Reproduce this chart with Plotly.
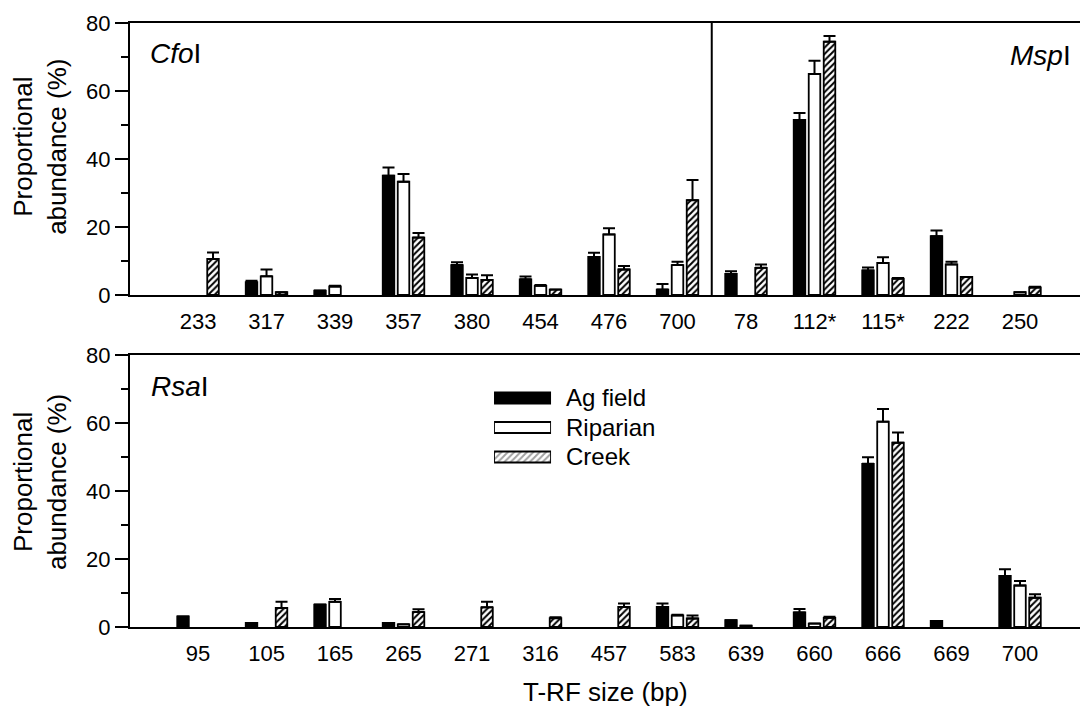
import plotly.graph_objects as go

# ---------------- data ----------------
# Top panel: CfoI fragments | MspI fragments
cfo_labels = ["233", "317", "339", "357", "380", "454", "476", "700"]
msp_labels = ["78", "112*", "115*", "222", "250"]
top_labels = cfo_labels + msp_labels

top_ag = [None, 3.8, 1.3, 35.1, 8.8, 4.6, 11.2, 1.6, 6.2, 51.5, 7.2, 17.3, None]
top_ag_err = [None, 0.4, 0.0, 2.4, 0.8, 0.8, 1.2, 1.6, 0.8, 2.0, 0.9, 1.7, None]
top_rip = [None, 5.5, 2.5, 33.3, 5.0, 2.7, 17.8, 8.8, None, 65.0, 9.4, 9.0, 0.8]
top_rip_err = [None, 2.0, 0.2, 2.3, 1.0, 0.2, 1.8, 1.0, None, 3.9, 1.7, 0.8, 0.0]
top_creek = [10.6, 0.8, None, 16.9, 4.4, 1.6, 7.5, 27.9, 8.0, 74.5, 4.8, 5.3, 2.2]
top_creek_err = [1.9, 0.0, None, 1.3, 1.4, 0.0, 1.0, 5.9, 1.0, 1.7, 0.2, 0.0, 0.2]

# Bottom panel: RsaI fragments
rsa_labels = ["95", "105", "165", "265", "271", "316", "457", "583", "639", "660", "666", "669", "700"]
rsa_ag = [3.1, 1.2, 6.6, 1.2, None, None, None, 5.9, 2.0, 4.3, 48.0, 1.8, 15.0]
rsa_ag_err = [0.0, 0.0, 0.0, 0.0, None, None, None, 1.0, 0.0, 1.0, 1.9, 0.0, 2.0]
rsa_rip = [None, None, 7.4, 0.8, None, None, None, 3.4, 0.4, 1.0, 60.4, None, 12.2]
rsa_rip_err = [None, None, 0.8, 0.0, None, None, None, 0.2, 0.0, 0.0, 3.7, None, 1.3]
rsa_creek = [None, 5.6, None, 4.4, 5.8, 2.6, 5.9, 2.5, None, 2.7, 54.2, None, 8.6]
rsa_creek_err = [None, 1.8, None, 0.8, 1.6, 0.3, 1.0, 0.9, None, 0.3, 3.0, None, 1.0]

series_names = ["Ag field", "Riparian", "Creek"]
y_ticks = [0, 20, 40, 60, 80]

# ---------------- styling ----------------
FONT = "Liberation Sans, Arial, Helvetica, sans-serif"
OUT = dict(color="black", width=1.8)
HATCH = dict(shape="/", fgcolor="black", bgcolor="white", size=4.5, solidity=0.45, fillmode="replace")
markers = {
    "Ag field": dict(color="black", line=OUT),
    "Riparian": dict(color="white", line=OUT),
    "Creek": dict(color="white", line=OUT, pattern=HATCH),
}

fig = go.Figure()

def add_panel(labels, vals_list, errs_list, xa, ya):
    xs = list(range(len(labels)))
    for name, vals, errs in zip(series_names, vals_list, errs_list):
        fig.add_trace(go.Bar(
            x=xs, y=vals, name=name, showlegend=False,
            marker=markers[name],
            error_y=dict(type="data", symmetric=False, array=errs,
                         arrayminus=[0] * len(errs), color="black",
                         thickness=2, width=6),
            xaxis=xa, yaxis=ya,
        ))

add_panel(top_labels, [top_ag, top_rip, top_creek],
          [top_ag_err, top_rip_err, top_creek_err], "x", "y")
add_panel(rsa_labels, [rsa_ag, rsa_rip, rsa_creek],
          [rsa_ag_err, rsa_rip_err, rsa_creek_err], "x2", "y2")

# legend swatches drawn as a tiny horizontal-bar subplot
leg_pos = list(range(len(series_names)))[::-1]
fig.add_trace(go.Bar(
    orientation="h", x=[1] * len(series_names), y=leg_pos, width=0.373,
    showlegend=False, hoverinfo="skip",
    marker=dict(color=["black", "white", "white"], line=OUT,
                pattern=dict(shape=["", "", "/"], fgcolor="black", size=4.5,
                             solidity=0.45, fillmode="overlay")),
    xaxis="x3", yaxis="y3",
))

XR = [-0.993, 12.876]
tickfont = dict(family=FONT, size=22, color="black")

def xaxis_cfg(labels, anchor):
    return dict(domain=[0, 1], anchor=anchor, range=XR,
                tickvals=list(range(len(labels))), ticktext=labels,
                ticks="outside", ticklen=6, tickcolor="rgba(0,0,0,0)",
                showline=True, linecolor="black", linewidth=2, mirror=True,
                showgrid=False, zeroline=False, tickfont=tickfont)

def yaxis_cfg(domain, anchor):
    return dict(domain=domain, anchor=anchor, range=[0, 80], tickvals=y_ticks,
                ticks="outside", ticklen=13, tickwidth=2, tickcolor="black",
                showline=True, linecolor="black", linewidth=2,
                minor=dict(ticks="outside", ticklen=7, tickwidth=2,
                           tickcolor="black", dtick=10, showgrid=False),
                showgrid=False, zeroline=False, tickfont=tickfont)

fig.update_layout(
    width=1080, height=707,
    margin=dict(l=130, r=0, t=23, b=80),
    paper_bgcolor="white", plot_bgcolor="rgba(0,0,0,0)",
    barmode="group", bargap=0.343, bargroupgap=0.23,
    font=dict(family=FONT, color="black"),
    xaxis=xaxis_cfg(top_labels, "y"),
    yaxis=yaxis_cfg([0.5497, 1], "x"),
    xaxis2=xaxis_cfg(rsa_labels, "y2"),
    yaxis2=yaxis_cfg([0, 0.4503], "x2"),
    xaxis3=dict(domain=[0.3832, 0.4432], anchor="y3", range=[0, 1], visible=False),
    yaxis3=dict(domain=[0.257, 0.4036], anchor="x3", range=[-0.5, 2.5], visible=False),
)

# divider between CfoI and MspI
div_x = len(cfo_labels) - 0.5
fig.add_shape(type="line", xref="x", yref="y", x0=div_x, x1=div_x, y0=0, y1=80,
              line=dict(color="black", width=2))

ann = []
ann.append(dict(text="<i>Cfo</i>I", xref="x domain", yref="y domain", x=0.019, y=0.888,
                xanchor="left", yanchor="middle", showarrow=False, font=dict(size=28)))
ann.append(dict(text="<i>Msp</i>I", xref="x domain", yref="y domain", x=0.9926, y=0.879,
                xanchor="right", yanchor="middle", showarrow=False, font=dict(size=28)))
ann.append(dict(text="<i>Rsa</i>I", xref="x2 domain", yref="y2 domain", x=0.02, y=0.886,
                xanchor="left", yanchor="middle", showarrow=False, font=dict(size=28)))
for yc in (0.795, 0.24):
    ann.append(dict(text="Proportional<br>abundance (%)", xref="paper", yref="paper",
                    x=-0.0947, y=yc, xanchor="center", yanchor="middle", textangle=-90,
                    showarrow=False, font=dict(size=26)))
ann.append(dict(text="T-RF size (bp)", xref="paper", yref="paper", x=0.5, y=-0.108,
                xanchor="center", yanchor="middle", showarrow=False, font=dict(size=26)))
leg_y = [0.3800, 0.3303, 0.2820]
for name, yy in zip(series_names, leg_y):
    ann.append(dict(text=name, xref="paper", yref="paper", x=0.4568, y=yy,
                    xanchor="left", yanchor="middle", showarrow=False, font=dict(size=24)))
fig.update_layout(annotations=ann)

fig.write_html("out.html")
